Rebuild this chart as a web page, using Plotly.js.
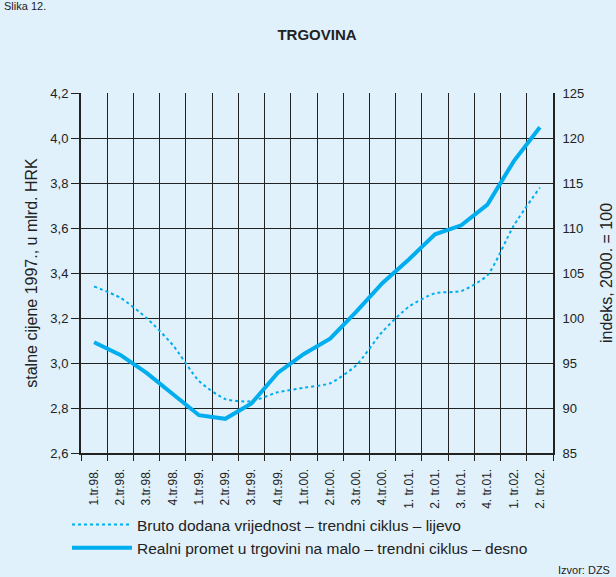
<!DOCTYPE html>
<html><head><meta charset="utf-8">
<script src="https://cdn.plot.ly/plotly-3.0.1.min.js"></script>
<style>html,body{margin:0;padding:0;background:#e0f1fb;}#chart{width:616px;height:577px;}</style>
</head><body><div id="chart"></div>
<script>
const categories = ["1.tr.98.","2.tr.98.","3.tr.98.","4.tr.98.","1.tr.99.","2.tr.99.","3.tr.99.","4.tr.99.","1.tr.00.","2.tr.00.","3.tr.00.","4.tr.00.","1. tr.01.","2. tr.01.","3. tr.01.","4. tr.01.","1. tr.02.","2. tr.02."];
const bdvValues = [3.34,3.29,3.20,3.08,2.92,2.84,2.83,2.87,2.89,2.91,2.99,3.14,3.25,3.31,3.32,3.39,3.61,3.78];
const prometValues = [97.3,95.9,93.9,91.5,89.2,88.8,90.5,93.9,96.0,97.7,100.7,103.9,106.5,109.3,110.3,112.6,117.4,121.2];
const leftTicks = [2.6,2.8,3.0,3.2,3.4,3.6,3.8,4.0,4.2];
const rightTicks = [85,90,95,100,105,110,115,120,125];
const legendNames = ["Bruto dodana vrijednost – trendni ciklus – lijevo","Realni promet u trgovini na malo – trendni ciklus – desno"];

const lineColor = '#00aeef';
const fam = '"Liberation Sans", Arial, sans-serif';
const f = (s) => ({family:fam, color:'#222', size:s});

const traces = [
  {x:categories, y:bdvValues, type:'scatter', mode:'lines', name:legendNames[0], yaxis:'y',
   line:{color:lineColor, width:2, dash:'dot', shape:'spline', smoothing:0.6}},
  {x:categories, y:prometValues, type:'scatter', mode:'lines', name:legendNames[1], yaxis:'y2',
   line:{color:lineColor, width:4}}
];

const layout = {
  width:616, height:577,
  paper_bgcolor:'#e0f1fb', plot_bgcolor:'#e0f1fb',
  font:f(13),
  separators:',.',
  margin:{l:81, r:63, t:93, b:124},
  showlegend:true,
  legend:{x:-(81-67)/472, y:-(508-453)/360, xanchor:'left', yanchor:'top',
          bgcolor:'rgba(0,0,0,0)', font:f(15.5), tracegroupgap:0, itemwidth:60},
  title:{text:'<b>TRGOVINA</b>', x:0.5, xref:'paper', y:1-35/577, yanchor:'middle', font:f(15)},
  xaxis:{type:'category', tickson:'boundaries', showgrid:true, gridcolor:'#222', gridwidth:1,
         showline:true, linecolor:'#222', linewidth:2, ticks:'outside', ticklen:6, tickcolor:'#222',
         tickangle:-90, tickfont:f(12), ticklabelstandoff:9, range:[-0.5,17.5], automargin:false},
  yaxis:{range:[2.6,4.2], tickvals:leftTicks, tickformat:'.1f', showgrid:true, gridcolor:'#222', gridwidth:1,
         showline:true, linecolor:'#222', linewidth:2, ticks:'outside', ticklen:8, tickcolor:'#222',
         zeroline:false, tickfont:f(13), automargin:false,
         title:{text:'stalne cijene 1997., u mlrd. HRK', font:f(16), standoff:9}},
  yaxis2:{range:[85,125], tickvals:rightTicks, overlaying:'y', side:'right', showgrid:false,
          showline:true, linecolor:'#222', linewidth:2, ticks:'outside', ticklen:5, tickcolor:'rgba(0,0,0,0)',
          zeroline:false, tickfont:f(13), automargin:false,
          title:{text:'indeks, 2000. = 100', font:f(16), standoff:17}},
  annotations:[
    {text:'Izvor: DZS', xref:'paper', yref:'paper', x:(612-81)/472, y:-(570-453)/360, xanchor:'right', yanchor:'middle', showarrow:false, font:f(11)},
    {text:'Slika 12.', xref:'paper', yref:'paper', x:-(81-2)/472, y:1+(93-6)/360, xanchor:'left', yanchor:'middle', showarrow:false, font:f(11)}
  ]
};

Plotly.newPlot('chart', traces, layout, {displayModeBar:false, staticPlot:true});
</script></body></html>
